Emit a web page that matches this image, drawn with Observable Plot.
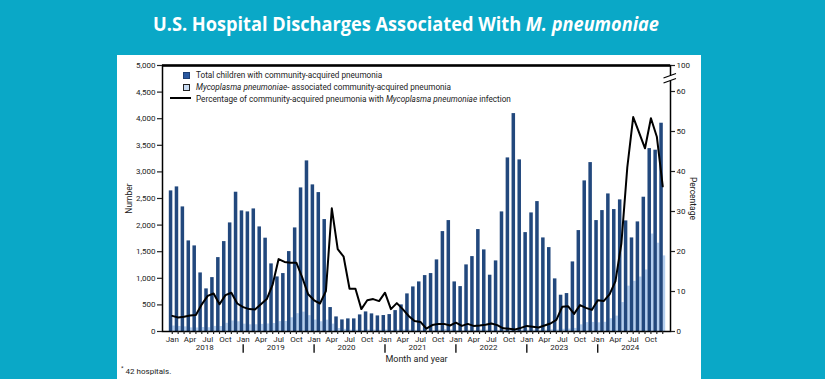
<!DOCTYPE html>
<html>
<head>
<meta charset="utf-8">
<script src="https://cdn.jsdelivr.net/npm/d3@7"></script>
<script src="https://cdn.jsdelivr.net/npm/@observablehq/plot@0.6"></script>
<style>
  html, body { margin: 0; padding: 0; }
  body { width: 825px; height: 379px; background: #0aa8c7; position: relative; overflow: hidden; font-family: Roboto, sans-serif; }
  #panel { position: absolute; left: 117px; top: 55px; width: 584px; height: 324px; background: #fff; }
  #chart { position: absolute; left: 0; top: 0; }
  #title { position: absolute; left: 152.6px; top: 10px; font-family: "Open Sans", sans-serif; font-weight: 700; font-size: 20px; line-height: 28px; color: #fff; white-space: nowrap; transform-origin: 0 50%; }
  .leg { position: absolute; font-size: 8.2px; color: #222; white-space: nowrap; line-height: 10px; }
  .sw { position: absolute; width: 7px; height: 7px; box-sizing: border-box; }
  #foot { position: absolute; left: 121px; top: 367px; font-size: 8px; line-height: 10px; color: #222; white-space: nowrap; }
</style>
</head>
<body>
<div id="panel"></div>
<div id="title">U.S. Hospital Discharges Associated With <i>M. pneumoniae</i></div>
<div id="chart"></div>
<div class="sw" style="left:183px; top:72px; background:#2a58a0; border:0.8px solid #1d3f75;"></div>
<div class="leg" style="left:196px; top:70px;">Total children with community-acquired pneumonia</div>
<div class="sw" style="left:183px; top:84px; background:#c9dcf3; border:1px solid #222;"></div>
<div class="leg" style="left:196px; top:82px;"><i>Mycoplasma pneumoniae</i>- associated community-acquired pneumonia</div>
<div style="position:absolute; left:170px; top:97.3px; width:21px; height:2px; background:#000;"></div>
<div class="leg" style="left:196px; top:93.5px;">Percentage of community-acquired pneumonia with <i>Mycoplasma pneumoniae</i> infection</div>
<div id="foot"><sup style="font-size:6px; line-height:0">*</sup> 42 hospitals.</div>
<script>
// ---- data ----
const years = [2018, 2019, 2020, 2021, 2022, 2023, 2024];
const monthNames = ["Jan","Feb","Mar","Apr","May","Jun","Jul","Aug","Sep","Oct","Nov","Dec"];
const labeledMonths = ["Jan","Apr","Jul","Oct"];
const months = years.flatMap(y => monthNames.map(m => `${m} ${y}`));

// Total children with community-acquired pneumonia
const totalCAP = [
  2643,2718,2342,1703,1609,1101, 801,1013,1389,1690,2041,2618,
  2267,2248,2304,1966,1754,1271,1026,1089,1502,1947,2699,3207,
  2756,2611,2104, 450, 274, 218, 237, 237, 312, 368, 331, 293,
   300, 318, 393, 500, 707, 838, 932,1051,1089,1346,1878,2085,
   932, 844,1252,1408,1916,1534,1058,1327,2248,3263,4096,3226,
  1859,2229,2442,1759,1577, 989, 682, 713,1308,1897,2831,3175,
  2085,2273,2586,2292,2474,2079,1759,2060,2524,3438,3408,3915
];
// Mycoplasma pneumoniae-associated community-acquired pneumonia
const mycoCAP = [
   103,  95,  87,  68,  66,  75,  71,  96,  94, 154, 198, 183,
   138, 126, 127, 134, 142, 150, 186, 189, 258, 335, 364, 298,
   215, 183, 213, 139,  56,  41,  25,  25,  17,  29,  27,  22,
    29,  18,  28,  28,  28,  22,  22,   7,  17,  26,  36,  31,
    21,  12,  24,  20,  29,  26,  21,  21,  18,  23,  20,  29,
    26,  27,  24,  26,  32,  29,  42,  45,  58, 125, 167, 171,
   163, 173, 240, 289, 544, 852, 943,1024,1156,1832,1660,1421
];
// Percentage of CAP with M. pneumoniae infection
const pctMyco = [
  3.9, 3.5, 3.7, 4.0, 4.1, 6.8, 8.9, 9.5, 6.8, 9.1, 9.7, 7.0,
  6.1, 5.6, 5.5, 6.8, 8.1,11.8,18.1,17.4,17.2,17.2,13.5, 9.3,
  7.8, 7.0,10.1,30.8,20.6,18.7,10.7,10.7, 5.6, 7.8, 8.1, 7.6,
  9.7, 5.6, 7.1, 5.6, 3.9, 2.6, 2.4, 0.7, 1.6, 1.9, 1.9, 1.5,
  2.2, 1.4, 1.9, 1.4, 1.5, 1.7, 2.0, 1.6, 0.8, 0.7, 0.5, 0.9,
  1.4, 1.2, 1.0, 1.5, 2.0, 2.9, 6.2, 6.3, 4.4, 6.6, 5.9, 5.4,
  7.8, 7.6, 9.3,12.6,22.0,41.0,53.6,49.7,45.8,53.3,48.7,36.3
];
const leftTicks = [0,500,1000,1500,2000,2500,3000,3500,4000,4500,5000];
const rightTicks = [0,10,20,30,40,50,60];
const rightTopLabel = 100;

// ---- title: fit to the reference width ----
const titleEl = document.getElementById("title");
const tw = titleEl.getBoundingClientRect().width;
titleEl.style.transform = `scaleX(${506 / tw})`;

// ---- build ----
const data = months.map((m, i) => ({month: m, total: totalCAP[i], myco: mycoCAP[i], pct: pctMyco[i]}));
const pctSpan = 66.5;               // percentage equivalent of the full left axis (broken axis)
const k = 5000 / pctSpan;
const W = 825, H = 379, mL = 162, mR = 155, mT = 65, mB = 48;
const bw = (665.2 - 168.8) / months.length;

const dark = "#22487d", light = "#b4cff0";
const julys = years.map(y => `Jul ${y}`);
const dividers = years.slice(1).map(y => `Jan ${y}`);

const chart = Plot.plot({
  width: W, height: H,
  marginLeft: mL, marginRight: mR, marginTop: mT, marginBottom: mB,
  style: {background: "transparent", fontFamily: "Roboto, sans-serif", fontSize: "8px", color: "#222", overflow: "visible"},
  x: {type: "band", domain: months, range: [168.8, 665.2], padding: 0},
  y: {domain: [0, 5000]},
  marks: [
    Plot.barY(data, {x: "month", y: "myco", fill: light, insetLeft: 3.4, insetRight: 0}),
    Plot.barY(data, {x: "month", y: "total", fill: dark, insetLeft: 0, insetRight: 2.4}),
    Plot.line(data, {x: "month", y: d => d.pct * k, stroke: "#000", strokeWidth: 2, strokeLinejoin: "round"}),
    Plot.frame({stroke: "#000", strokeWidth: 1.5}),
    Plot.ruleY([5000], {stroke: "#000", strokeWidth: 2.6}),
    Plot.axisY({anchor: "left", ticks: leftTicks, tickFormat: d3.format(","), tickSize: 5, tickPadding: 2, label: null, strokeWidth: 1.2}),
    Plot.axisY({anchor: "right", ticks: [...rightTicks.map(p => p * k), 5000],
      tickFormat: d => d === 5000 ? String(rightTopLabel) : String(Math.round(d / k)),
      tickSize: 4, tickPadding: 2, label: null, strokeWidth: 1.2}),
    Plot.axisX({ticks: months, tickFormat: d => labeledMonths.includes(d.slice(0, 3)) ? d.slice(0, 3) : "",
      tickSize: 3, tickPadding: 1.5, label: null, strokeWidth: 1.2}),
    Plot.axisX({ticks: julys, tickFormat: d => d.slice(4), tickSize: 0, tickPadding: 13, dx: -bw / 2, label: null}),
    Plot.ruleX(dividers, {x: d => d, y1: -250, y2: -410, stroke: "#000", strokeWidth: 1.3}),
    Plot.text(["Number"], {frameAnchor: "left", textAnchor: "middle", rotate: -90, dx: -33, fontSize: 8.5}),
    Plot.text(["Percentage"], {frameAnchor: "right", textAnchor: "middle", rotate: 90, dx: 22, fontSize: 8.5}),
    Plot.text(["Month and year"], {frameAnchor: "bottom", textAnchor: "middle", dy: 30, fontSize: 9})
  ]
});
document.getElementById("chart").appendChild(chart);

// axis break on the right axis
const svg = d3.select(chart);
const xr = W - mR;
svg.append("rect").attr("x", xr - 2).attr("y", 75.5).attr("width", 4).attr("height", 5).attr("fill", "#fff");
svg.append("line").attr("x1", xr - 6.5).attr("y1", 78).attr("x2", xr + 6).attr("y2", 73.5).attr("stroke", "#000").attr("stroke-width", 1.2);
svg.append("line").attr("x1", xr - 6.5).attr("y1", 83).attr("x2", xr + 6).attr("y2", 78.5).attr("stroke", "#000").attr("stroke-width", 1.2);
</script>
</body>
</html>
